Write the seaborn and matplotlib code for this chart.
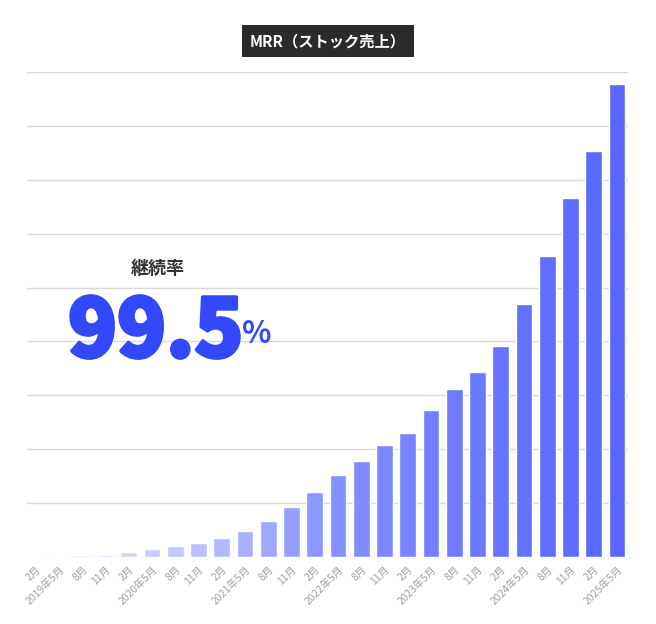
import matplotlib
matplotlib.use("Agg")
import matplotlib.pyplot as plt
import matplotlib.patheffects as pe
import seaborn as sns
import pandas as pd
import numpy as np

# ---- data ----
months = ["2月", "2019年5月", "8月", "11月",
          "2月", "2020年5月", "8月", "11月",
          "2月", "2021年5月", "8月", "11月",
          "2月", "2022年5月", "8月", "11月",
          "2月", "2023年5月", "8月", "11月",
          "2月", "2024年5月", "8月", "11月",
          "2月", "2025年5月"]
mrr = [0.1, 0.2, 0.3, 0.4, 0.9, 1.5, 2.0, 2.6, 3.5, 4.9, 6.7, 9.2, 12.0,
       15.2, 17.9, 20.7, 23.1, 27.2, 31.1, 34.4, 39.1, 46.9, 55.9, 66.7,
       75.4, 87.8]
title_text = "MRR（ストック売上）"
rate_label = "継続率"
rate_value = "99.5"
rate_unit = "%"

sns.set_theme(style="white")
plt.rcParams['font.family'] = ['Noto Sans CJK JP', 'DejaVu Sans']

df = pd.DataFrame({"idx": [str(i) for i in range(len(months))], "mrr": mrr})
palette = sns.blend_palette(["#e9e9fb", "#c2c7ff", "#8892ff", "#6b78ff", "#5866ff"],
                            n_colors=len(months))

fig = plt.figure(figsize=(6.56, 6.24), dpi=100)
ax = fig.add_axes([27/656, 1-557/624, (628-27)/656, (557-72)/624])

sns.barplot(data=df, x="idx", y="mrr", hue="idx", palette=palette, legend=False,
            width=0.72, ax=ax, zorder=3, saturation=1)

ax.set_ylim(0, 90)
ax.set_xlim(-0.37, 25.47)
ax.set_yticks(np.arange(0, 91, 10))
ax.yaxis.grid(True, color="#d9d9d9", linewidth=1.0, zorder=0)
ax.set_yticklabels([])
ax.tick_params(axis="y", length=0)
for s in ax.spines.values():
    s.set_visible(False)
ax.set_xlabel("")
ax.set_ylabel("")
ax.set_xticks(range(len(months)))
ax.set_xticklabels(months, rotation=45, ha="right", rotation_mode="anchor",
                   fontsize=7.5, color="#a0a0a0")
ax.tick_params(axis="x", length=0, pad=5)

# title box
fig.text(328/656, 1-41/624, title_text, ha="center", va="center",
         fontsize=11, fontweight="bold", color="white",
         bbox=dict(boxstyle="square,pad=0.55", facecolor="#2b2b2e", edgecolor="none"))

# retention annotation
fig.text(158/656, 1-268/624, rate_label, ha="center", va="center",
         fontsize=13, fontweight="bold", color="#333333")
fig.text(68/656, 1-357/624, rate_value, ha="left", va="baseline",
         fontsize=58, fontweight="heavy", color="#3347fb",
         path_effects=[pe.withStroke(linewidth=2.5, foreground="#3347fb")])
fig.text(242/656, 1-343/624, rate_unit, ha="left", va="baseline",
         fontsize=22, fontweight="bold", color="#3347fb")

fig.savefig("out.png", dpi=100, facecolor="white")
